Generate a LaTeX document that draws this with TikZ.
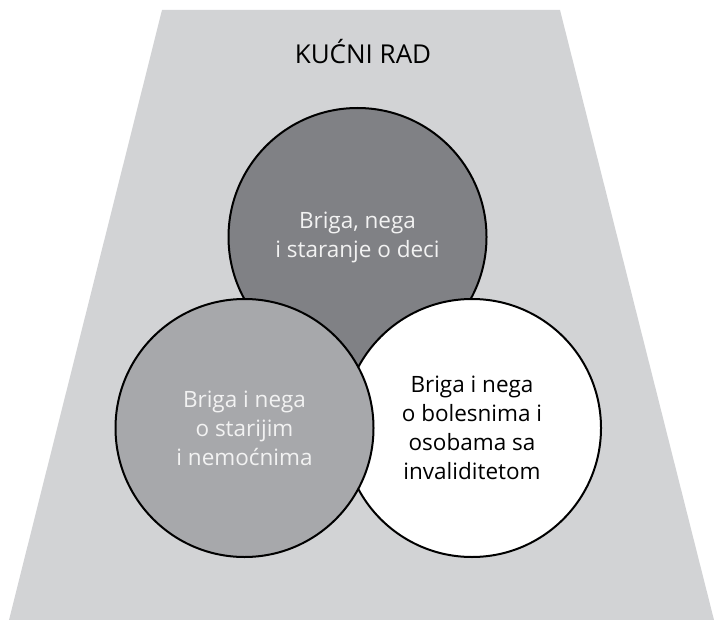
\documentclass[tikz,border=0pt]{standalone}
\usepackage{fontspec}
\setmainfont{Open Sans}
\definecolor{bgtrap}{HTML}{D2D3D5}
\definecolor{cdark}{HTML}{808185}
\definecolor{cmid}{HTML}{A7A8AB}
\definecolor{ctext}{HTML}{F2F2F2}
\begin{document}
\begin{tikzpicture}[x=1pt,y=-1pt,
  circ/.style={circle,draw=black,line width=2pt,minimum size=258pt,inner sep=0pt},
  lbl/.style={align=center,font=\fontsize{22.5}{29}\selectfont},
  ]
\useasboundingbox (0,0) rectangle (714,620);
\fill[bgtrap] (162,10) -- (560,10) -- (714,620) -- (9,620) -- cycle;
\node[font=\fontsize{26}{30}\selectfont,text=black] (title) at (363,52) {KUĆNI RAD};
\node[circ,fill=cdark] (top) at (357.5,237) {};
\node[circ,fill=white] (right) at (472,428) {};
\node[circ,fill=cmid] (left) at (244.5,428) {};
\node[lbl,text=ctext] (ttop) at (top) {Briga, nega\\i staranje o deci};
\node[lbl,text=ctext] (tleft) at (left) {Briga i nega\\o starijim\\i nemoćnima};
\node[lbl,text=black] (tright) at (right) {Briga i nega\\o bolesnima i\\osobama sa\\invaliditetom};
\end{tikzpicture}
\end{document}
